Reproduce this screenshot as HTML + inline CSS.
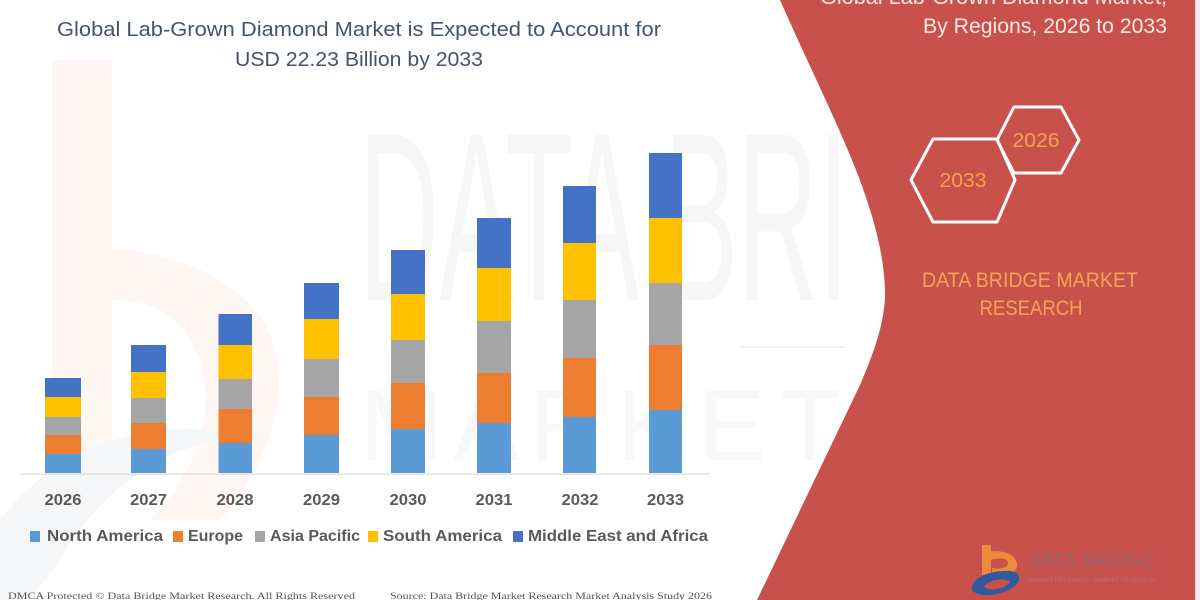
<!DOCTYPE html>
<html>
<head>
<meta charset="utf-8">
<style>
  html, body { margin:0; padding:0; background:#ffffff; }
  body { width:1200px; height:600px; overflow:hidden; }
  svg { display:block; }
  .sans { font-family: "Liberation Sans", "DejaVu Sans", sans-serif; }
  .serif { font-family: "Liberation Serif", "DejaVu Serif", serif; }
</style>
</head>
<body>
<svg width="1200" height="600" viewBox="0 0 1200 600" xmlns="http://www.w3.org/2000/svg">
  <rect x="0" y="0" width="1200" height="600" fill="#ffffff"/>

  <!-- faint watermark "b" on left -->
  <path d="M52,60 L112,60 L112,250 C170,250 250,280 272,340 C292,400 265,470 220,520 L150,520 C200,470 215,410 200,360 C185,315 150,300 112,300 L112,470 L52,470 Z" fill="#fef6f2"/>
  <path d="M0,520 C60,440 170,410 260,440 C200,430 110,470 60,560 L30,600 L0,600 Z" fill="#f5f6f8"/>

  <!-- faint DATA BRIDGE watermark -->
  <text x="359" y="300" class="sans" font-size="240" fill="#f6f6f6" textLength="490" lengthAdjust="spacingAndGlyphs">DATA BRI</text>
  <text x="360" y="460" class="sans" font-size="100" fill="#f8f8f8" textLength="480" lengthAdjust="spacing">M A R K E T</text>
  <rect x="740" y="346" width="106" height="2" fill="#f3f3f3"/>

  <!-- Title -->
  <text x="359" y="36" class="sans" font-size="20" fill="#44546a" text-anchor="middle" textLength="604" lengthAdjust="spacingAndGlyphs">Global Lab-Grown Diamond Market is Expected to Account for</text>
  <text x="359" y="66" class="sans" font-size="20" fill="#44546a" text-anchor="middle" textLength="248" lengthAdjust="spacingAndGlyphs">USD 22.23 Billion by 2033</text>

  <!-- axis line -->
  <rect x="20" y="473.5" width="690" height="1.2" fill="#d9d9d9"/>

  <!-- Bars -->
  <g>
    <!-- 2026 -->
    <rect x="45" y="454" width="36" height="19" fill="#5b9bd5"/>
    <rect x="45" y="435" width="36" height="19" fill="#ed7d31"/>
    <rect x="45" y="417" width="36" height="18" fill="#a5a5a5"/>
    <rect x="45" y="397" width="36" height="20" fill="#ffc000"/>
    <rect x="45" y="378" width="36" height="19" fill="#4472c4"/>
    <!-- 2027 -->
    <rect x="131" y="449" width="35" height="24" fill="#5b9bd5"/>
    <rect x="131" y="423" width="35" height="26" fill="#ed7d31"/>
    <rect x="131" y="398" width="35" height="25" fill="#a5a5a5"/>
    <rect x="131" y="372" width="35" height="26" fill="#ffc000"/>
    <rect x="131" y="345" width="35" height="27" fill="#4472c4"/>
    <!-- 2028 -->
    <rect x="218.5" y="443" width="33.5" height="30" fill="#5b9bd5"/>
    <rect x="218.5" y="409" width="33.5" height="34" fill="#ed7d31"/>
    <rect x="218.5" y="379" width="33.5" height="30" fill="#a5a5a5"/>
    <rect x="218.5" y="345" width="33.5" height="34" fill="#ffc000"/>
    <rect x="218.5" y="314" width="33.5" height="31" fill="#4472c4"/>
    <!-- 2029 -->
    <rect x="304" y="435" width="35" height="38" fill="#5b9bd5"/>
    <rect x="304" y="397" width="35" height="38" fill="#ed7d31"/>
    <rect x="304" y="359" width="35" height="38" fill="#a5a5a5"/>
    <rect x="304" y="319" width="35" height="40" fill="#ffc000"/>
    <rect x="304" y="283" width="35" height="36" fill="#4472c4"/>
    <!-- 2030 -->
    <rect x="391" y="429" width="34" height="44" fill="#5b9bd5"/>
    <rect x="391" y="383" width="34" height="46" fill="#ed7d31"/>
    <rect x="391" y="340" width="34" height="43" fill="#a5a5a5"/>
    <rect x="391" y="294" width="34" height="46" fill="#ffc000"/>
    <rect x="391" y="250" width="34" height="44" fill="#4472c4"/>
    <!-- 2031 -->
    <rect x="477" y="423" width="34" height="50" fill="#5b9bd5"/>
    <rect x="477" y="373" width="34" height="50" fill="#ed7d31"/>
    <rect x="477" y="321" width="34" height="52" fill="#a5a5a5"/>
    <rect x="477" y="268" width="34" height="53" fill="#ffc000"/>
    <rect x="477" y="218" width="34" height="50" fill="#4472c4"/>
    <!-- 2032 -->
    <rect x="563" y="417" width="33" height="56" fill="#5b9bd5"/>
    <rect x="563" y="358" width="33" height="59" fill="#ed7d31"/>
    <rect x="563" y="300" width="33" height="58" fill="#a5a5a5"/>
    <rect x="563" y="243" width="33" height="57" fill="#ffc000"/>
    <rect x="563" y="186" width="33" height="57" fill="#4472c4"/>
    <!-- 2033 -->
    <rect x="649" y="410" width="33" height="63" fill="#5b9bd5"/>
    <rect x="649" y="345" width="33" height="65" fill="#ed7d31"/>
    <rect x="649" y="283" width="33" height="62" fill="#a5a5a5"/>
    <rect x="649" y="218" width="33" height="65" fill="#ffc000"/>
    <rect x="649" y="153" width="33" height="65" fill="#4472c4"/>
  </g>

  <!-- X labels -->
  <g class="sans" font-size="16" font-weight="bold" fill="#595959" text-anchor="middle">
    <text x="63" y="505" textLength="37" lengthAdjust="spacingAndGlyphs">2026</text>
    <text x="148.5" y="505" textLength="37" lengthAdjust="spacingAndGlyphs">2027</text>
    <text x="235" y="505" textLength="37" lengthAdjust="spacingAndGlyphs">2028</text>
    <text x="321.5" y="505" textLength="37" lengthAdjust="spacingAndGlyphs">2029</text>
    <text x="408" y="505" textLength="37" lengthAdjust="spacingAndGlyphs">2030</text>
    <text x="494" y="505" textLength="37" lengthAdjust="spacingAndGlyphs">2031</text>
    <text x="580" y="505" textLength="37" lengthAdjust="spacingAndGlyphs">2032</text>
    <text x="665.5" y="505" textLength="37" lengthAdjust="spacingAndGlyphs">2033</text>
  </g>

  <!-- Legend -->
  <g class="sans" font-size="16" font-weight="bold" fill="#595959">
    <rect x="30" y="531" width="10" height="11" fill="#5b9bd5"/>
    <text x="47" y="541" textLength="116" lengthAdjust="spacingAndGlyphs">North America</text>
    <rect x="173" y="531" width="10" height="11" fill="#ed7d31"/>
    <text x="188" y="541" textLength="55" lengthAdjust="spacingAndGlyphs">Europe</text>
    <rect x="255" y="531" width="10" height="11" fill="#a5a5a5"/>
    <text x="270" y="541" textLength="90" lengthAdjust="spacingAndGlyphs">Asia Pacific</text>
    <rect x="368" y="531" width="10" height="11" fill="#ffc000"/>
    <text x="383" y="541" textLength="119" lengthAdjust="spacingAndGlyphs">South America</text>
    <rect x="513" y="531" width="10" height="11" fill="#4472c4"/>
    <text x="528" y="541" textLength="180" lengthAdjust="spacingAndGlyphs">Middle East and Africa</text>
  </g>

  <!-- Footer -->
  <g class="serif" font-size="9" fill="#555555">
    <text x="8" y="599" textLength="347" lengthAdjust="spacingAndGlyphs">DMCA Protected © Data Bridge Market Research. All Rights Reserved</text>
    <text x="390" y="599" textLength="322" lengthAdjust="spacingAndGlyphs">Source: Data Bridge Market Research Market Analysis Study 2026</text>
  </g>

  <!-- Red panel -->
  <path d="M780,0 L1195,0 L1195,600 L757,600 L860,385 C872,357 886,322 885,290 C882,205 832,118 780,0 Z" fill="#c9514b"/>
  <rect x="1195" y="0" width="5" height="600" fill="#efefef"/>
  <rect x="1195" y="0" width="1" height="600" fill="#d8d8d8"/>

  <!-- Right panel title -->
  <g class="sans" fill="#f7e9e7" text-anchor="end">
    <text x="1167" y="4" font-size="21" textLength="347" lengthAdjust="spacingAndGlyphs">Global Lab-Grown Diamond Market,</text>
    <text x="1167" y="33" font-size="21" textLength="244" lengthAdjust="spacingAndGlyphs">By Regions, 2026 to 2033</text>
  </g>

  <!-- Hexagons -->
  <polygon points="911,180 933,139 997,139 1015,180 997,222 933,222" fill="none" stroke="#ffffff" stroke-width="3" stroke-linejoin="round"/>
  <polygon points="997,140 1014,107 1061,107 1079,140 1061,173 1014,173" fill="none" stroke="#ffffff" stroke-width="3" stroke-linejoin="round"/>
  <g class="sans" font-size="20" fill="#f2a24e" text-anchor="middle">
    <text x="963" y="187" textLength="47" lengthAdjust="spacingAndGlyphs">2033</text>
    <text x="1036" y="147" textLength="47" lengthAdjust="spacingAndGlyphs">2026</text>
  </g>

  <!-- DATA BRIDGE MARKET RESEARCH -->
  <g class="sans" font-size="21" fill="#f4a253" text-anchor="middle">
    <text x="1030" y="287" textLength="216" lengthAdjust="spacingAndGlyphs">DATA BRIDGE MARKET</text>
    <text x="1031" y="315" textLength="103" lengthAdjust="spacingAndGlyphs">RESEARCH</text>
  </g>

  <!-- bottom right logo -->
  <g>
    <rect x="982" y="545" width="9" height="30" fill="#ef8a3a"/>
    <path d="M988,552 C1005,549 1018,556 1017,566 C1016,574 1005,578 992,575 L992,568 C1002,570 1008,567 1008,563 C1008,558 1000,557 990,560 Z" fill="#ef8a3a"/>
    <path d="M972,590 C970,578 990,570 1010,571 C1022,572 1022,582 1012,588 C1000,596 978,598 972,590 Z M984,586 C988,592 1004,590 1010,582 C1006,578 992,578 984,586 Z" fill="#2f5aa0" fill-rule="evenodd"/>
    <text x="1028" y="567" class="sans" font-size="20" fill="#9c6276" textLength="127" lengthAdjust="spacingAndGlyphs">DATA BRIDGE</text>
    <text x="1028" y="582" class="sans" font-size="6" fill="#ab7482" textLength="127" lengthAdjust="spacingAndGlyphs">MARKET RESEARCH · MARKET RESEARCH</text>
  </g>
</svg>
</body>
</html>
